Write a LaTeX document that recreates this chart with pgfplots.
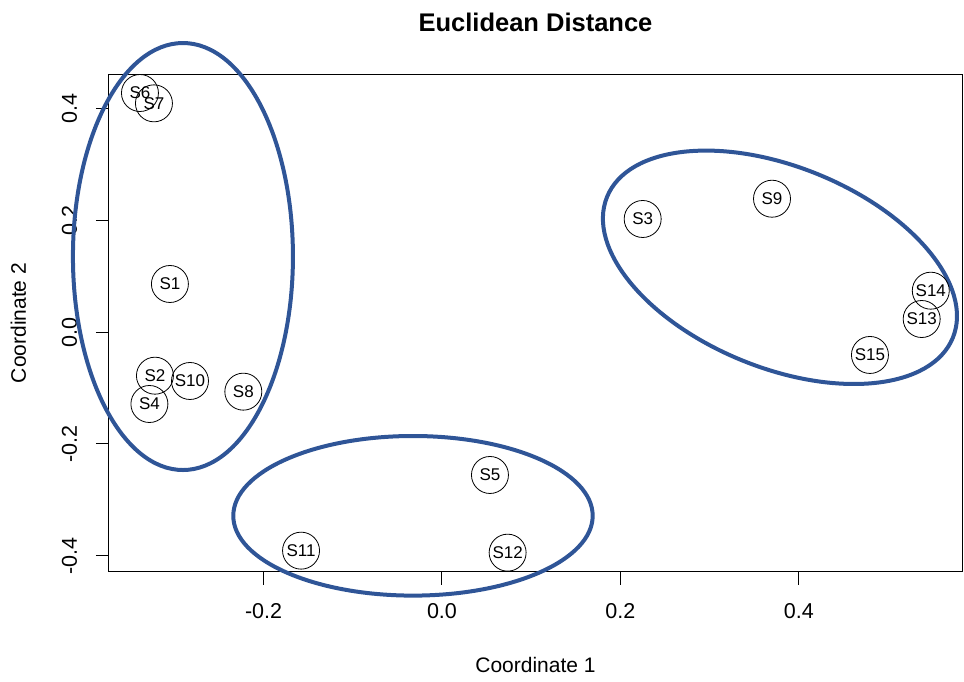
\documentclass[border=0pt]{standalone}
\usepackage{pgfplots}
\pgfplotsset{compat=1.18}
\usepackage{fontspec}
\setmainfont{Liberation Sans}
\definecolor{ellcol}{RGB}{47,85,151}
\begin{document}
\begin{tikzpicture}
\useasboundingbox (-109pt,-109.3pt) rectangle (855pt,571.7pt);
\begin{axis}[
  name=ax,
  at={(0,0)}, anchor=south west,
  scale only axis,
  width=853pt, height=497.4pt,
  xmin=-0.3733, xmax=0.583,
  ymin=-0.4287, ymax=0.462,
  clip=false,
  axis line style={black, line width=1pt},
  tick align=outside,
  major tick length=13pt,
  tick style={black, line width=1pt},
  xtick={-0.2,0,0.2,0.4},
  xticklabels={-0.2,0.0,0.2,0.4},
  ytick={-0.4,-0.2,0,0.2,0.4},
  yticklabels={-0.4,-0.2,0.0,0.2,0.4},
  xtick pos=bottom, ytick pos=left,
  ticklabel style={font=\fontsize{21.5}{25}\selectfont, inner sep=0pt},
  xticklabel style={anchor=north},
  yticklabel style={rotate=90, anchor=south},
  xticklabel shift=18.3pt,
  yticklabel shift=18.7pt,
]
\addplot[only marks, mark=o, mark size=18.5pt, mark options={black, line width=0.8pt},
  nodes near coords, point meta=explicit symbolic,
  every node near coord/.append style={anchor=center, inner sep=0pt, font=\fontsize{17}{20}\selectfont}]
  table[meta=label] {
x y label
-0.305 0.0865 S1
-0.3218 -0.0777 S2
0.225 0.2029 S3
-0.328 -0.1284 S4
0.0538 -0.2555 S5
-0.3386 0.4285 S6
-0.3229 0.410 S7
-0.2227 -0.1063 S8
0.370 0.2392 S9
-0.2825 -0.0872 S10
-0.158 -0.391 S11
0.0736 -0.3946 S12
0.5378 0.0238 S13
0.548 0.0745 S14
0.4798 -0.0406 S15
};
\draw[ellcol, line width=4pt] (axis cs:-0.2904,0.1357) ellipse [x radius=110pt, y radius=213.5pt];
\draw[ellcol, line width=4pt] (axis cs:-0.0325,-0.3286) ellipse [x radius=179.7pt, y radius=79.8pt];
\draw[ellcol, line width=4pt] (axis cs:0.3789,0.1164) ellipse [x radius=186.7pt, y radius=100.5pt, rotate=-22.15];
\end{axis}
\node[font=\fontsize{21}{25}\selectfont, anchor=base, inner sep=0pt] at ([yshift=-100.3pt]ax.south) {Coordinate 1};
\node[font=\fontsize{21}{25}\selectfont, anchor=base, inner sep=0pt, rotate=90] at ([xshift=-83pt]ax.west) {Coordinate 2};
\node[font=\bfseries\fontsize{25.5}{30}\selectfont, anchor=base, inner sep=0pt] at ([yshift=42.6pt]ax.north) {Euclidean Distance};
\end{tikzpicture}
\end{document}
